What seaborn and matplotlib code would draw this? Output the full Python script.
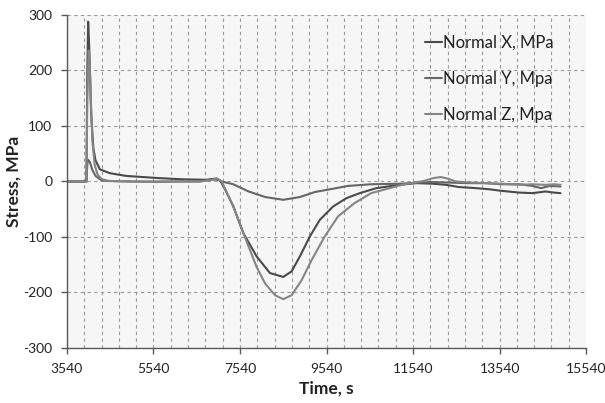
import numpy as np
import pandas as pd
import matplotlib
matplotlib.use("Agg")
import matplotlib.pyplot as plt
import seaborn as sns

# --- data ---
time_x = [3540, 3990, 4010, 4030, 4060, 4100, 4150, 4200, 4300, 4528, 4912, 5680, 6200,
          6756, 6950, 7080, 7200, 7386, 7617, 7924, 8232, 8540, 8732, 8924,
          9155, 9386, 9693, 10001, 10308, 10693, 11231, 11616, 12000, 12300, 12600,
          13000, 13300, 13600, 14000, 14300, 14600, 14800, 14950]
stress_x = [0, 0, 200, 288, 230, 120, 60, 38, 22, 15, 10, 6, 4,
            3, 5, 2, -15, -45, -93, -135, -165, -172, -162, -135,
            -99, -69, -45, -30, -21, -12, -6, -3, -4, -6, -10,
            -12, -14, -17, -20, -21, -18, -20, -21]

time_y = [3540, 3990, 4010, 4030, 4070, 4120, 4200, 4340, 4450, 5000, 6000, 6600, 6900,
          7000, 7117, 7386, 7739, 8122, 8540, 8924, 9269, 9693, 10034, 10570, 11231,
          11946, 12385, 12800, 13200, 13600, 14000, 14300, 14500, 14700, 14950]
stress_y = [0, 0, 30, 39, 35, 22, 10, 2, 1, 0, 0, 0, 3,
            4, 0, -5, -18, -28, -33, -28, -19, -13, -8, -5, -4,
            -1, -2, -3, -3, -5, -5, -8, -12, -8, -9]

time_z = [3540, 3990, 4010, 4040, 4060, 4090, 4130, 4180, 4250, 4350, 4500, 5000, 5600,
          6200, 6600, 6900, 7000, 7117, 7386, 7617, 7924, 8122, 8351, 8540, 8732, 8963,
          9193, 9499, 9805, 10187, 10570, 10952, 11334, 11793, 12000, 12181, 12350,
          12527, 12900, 13219, 13600, 13988, 14300, 14600, 14800, 14950]
stress_z = [0, 0, 150, 236, 225, 150, 70, 30, 12, 4, 1, 0, -1,
            0, 0, 3, 6, 0, -45, -93, -154, -184, -205, -212, -205, -178,
            -142, -99, -63, -39, -21, -13, -5, 1, 6, 8, 5,
            0, -2, -3, -4, -6, -5, -6, -5, -6]

series_names = ["Normal X, MPa", "Normal Y, Mpa", "Normal Z, Mpa"]
series_colors = ["#4a4a4a", "#666666", "#858585"]

frames = []
for name, t, s in zip(series_names, [time_x, time_y, time_z], [stress_x, stress_y, stress_z]):
    frames.append(pd.DataFrame({"time": t, "stress": s, "series": name}))
df = pd.concat(frames, ignore_index=True)

# --- styling ---
sns.set_theme(style="ticks")
plt.rcParams["font.family"] = ["Lato", "DejaVu Sans"]
plt.rcParams["axes.unicode_minus"] = False

fig = plt.figure(figsize=(6.05, 4.03), dpi=100)
ax = fig.add_axes([0.1107, 0.1365, 0.858, 0.8263])
ax.set_facecolor("#f6f6f6")

sns.lineplot(data=df, x="time", y="stress", hue="series", hue_order=series_names,
             palette=series_colors, sort=False, estimator=None, linewidth=1.5, ax=ax)

ax.set_xlim(3540, 15540)
ax.set_ylim(-300, 300)
ax.set_xticks(np.arange(3540, 15541, 2000))
ax.set_xticks(np.arange(3540, 15541, 400), minor=True)
ax.set_yticks(np.arange(-300, 301, 100))

ax.grid(which="both", axis="x", color="#9a9a9a", linestyle=(0, (3, 3)), linewidth=0.8)
ax.grid(which="major", axis="y", color="#9a9a9a", linestyle=(0, (3, 3)), linewidth=0.8)
ax.set_axisbelow(True)

for side in ["top", "right"]:
    ax.spines[side].set_visible(False)
for side in ["left", "bottom"]:
    ax.spines[side].set_color("#595959")
    ax.spines[side].set_linewidth(1.0)

ax.tick_params(axis="both", which="major", length=4.5, width=1.0, color="#595959",
               labelsize=10, labelcolor="#222222", direction="out", pad=6)
ax.tick_params(axis="x", which="minor", length=0)

ax.set_xlabel("Time, s", fontsize=12.5, fontweight="bold", color="#222222", labelpad=4)
ax.set_ylabel("Stress, MPa", fontsize=12.5, fontweight="bold", color="#222222", labelpad=1)

leg = ax.legend(loc="upper left", bbox_to_anchor=(0.69, 0.94), frameon=False,
                handlelength=1.0, handletextpad=0.1, labelspacing=1.2,
                borderpad=0, borderaxespad=0, fontsize=12)
for txt in leg.get_texts():
    txt.set_color("#222222")

plt.savefig("out.png", dpi=100)
plt.close()
